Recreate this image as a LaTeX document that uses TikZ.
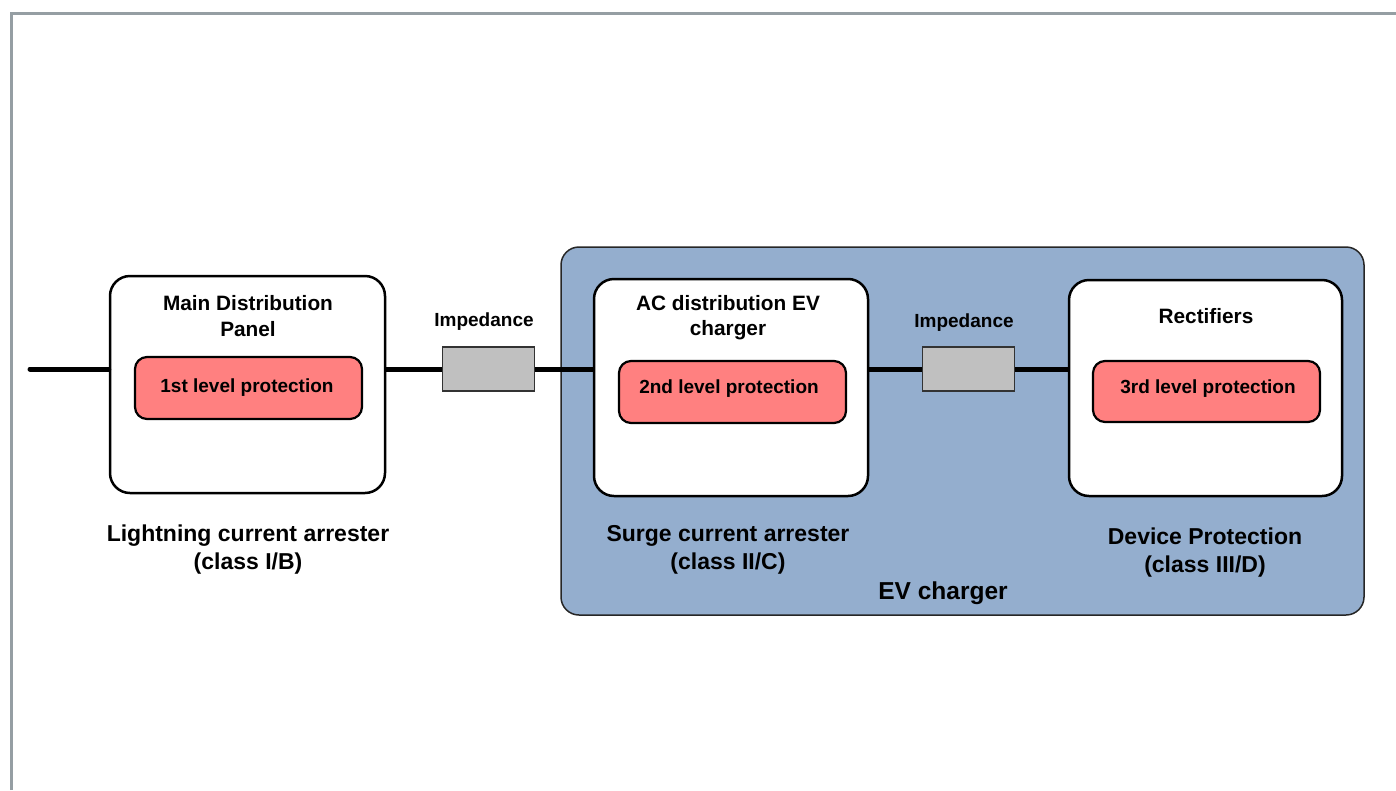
\documentclass[tikz,border=0pt]{standalone}
\usepackage{fontspec}
\setmainfont{Liberation Sans}
\begin{document}
\begin{tikzpicture}[x=1pt,y=-1pt,
  font=\bfseries,
  frame/.style={draw=black,line width=2.5pt,fill=white,rounded corners=20pt,inner sep=0pt},
  prot/.style={draw=black,line width=2.2pt,fill=protred,rounded corners=12pt,inner sep=0pt,minimum width=227pt,minimum height=62pt},
  prottxt/.style={font=\fontsize{19}{22}\selectfont\bfseries,inner sep=0pt},
  imp/.style={draw=black!80,line width=1.2pt,fill=impgray,inner sep=0pt,minimum width=92pt,minimum height=44pt},
  ttl/.style={align=center,font=\fontsize{20.8}{25.5}\selectfont\bfseries,inner sep=0pt},
  small/.style={font=\fontsize{19}{22}\selectfont\bfseries,inner sep=0pt},
  cls/.style={align=center,font=\fontsize{23}{28}\selectfont\bfseries,inner sep=0pt},
  wire/.style={line width=5pt,black}]
\definecolor{protred}{HTML}{FF8080}
\definecolor{impgray}{HTML}{C0C0C0}
\definecolor{evblue}{HTML}{94AECE}
\definecolor{bordergray}{HTML}{959EA3}
\useasboundingbox (0,0) rectangle (1396,790);
% outer page border
\draw[bordergray,line width=3pt] (11.5,790) -- (11.5,13.5) -- (1396,13.5);
% EV charger container
\node[draw=black!85,line width=1.5pt,fill=evblue,rounded corners=18pt,minimum width=803pt,minimum height=368pt,inner sep=0pt] (ev) at (962.5,431) {};
\node[font=\fontsize{24.5}{28}\selectfont\bfseries,inner sep=0pt] (evlbl) at (943,593) {EV charger};
% impedances
\node[imp] (imp1) at (488.5,369) {};
\node[imp] (imp2) at (968.5,369) {};
\node[small] (imp1lbl) at (484,321.5) {Impedance};
\node[small] (imp2lbl) at (964,322.5) {Impedance};
% boxes
\node[frame,minimum width=275pt,minimum height=217pt] (box1) at (247.5,384.5) {};
\node[frame,minimum width=274pt,minimum height=217pt] (box2) at (731,387.5) {};
\node[frame,minimum width=273pt,minimum height=216pt] (box3) at (1205.5,388) {};
% wires
\coordinate (start) at (30,369);
\draw[wire,line cap=round] (start) -- (start -| box1.west);
\draw[wire] (start -| box1.east) -- (imp1.west);
\draw[wire] (imp1.east) -- (start -| box2.west);
\draw[wire] (start -| box2.east) -- (imp2.west);
\draw[wire] (imp2.east) -- (start -| box3.west);
% titles
\node[ttl] (t1) at (248,316) {Main Distribution\\Panel};
\node[ttl] (t2) at (728,317.5) {AC distribution EV\\charger};
\node[ttl] (t3) at (1206,316) {Rectifiers};
% protection boxes
\node[prot] (p1) at (248.5,388) {};
\node[prot] (p2) at (732.5,392) {};
\node[prot,minimum height=61pt] (p3) at (1206.5,391.5) {};
\node[prottxt] (p1t) at (247,388) {1st level protection};
\node[prottxt] (p2t) at (729,389) {2nd level protection};
\node[prottxt] (p3t) at (1208,389) {3rd level protection};
% class labels
\node[cls] (c1) at (248,550) {Lightning current arrester\\(class I/B)};
\node[cls] (c2) at (728,550) {Surge current arrester\\(class II/C)};
\node[cls] (c3) at (1205,553) {Device Protection\\(class III/D)};
\end{tikzpicture}
\end{document}
